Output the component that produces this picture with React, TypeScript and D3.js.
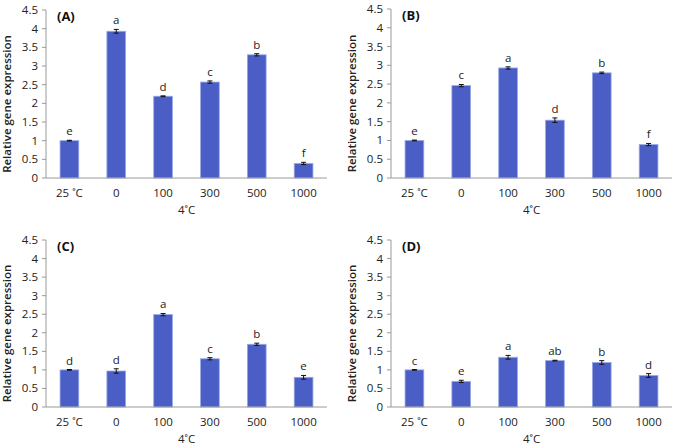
import * as d3 from 'd3'

const categories = ['25 ˚C', '0', '100', '300', '500', '1000']
const yTicks = [0, 0.5, 1, 1.5, 2, 2.5, 3, 3.5, 4, 4.5]

const valuesA = [1.0, 3.93, 2.19, 2.57, 3.30, 0.39]
const errorsA = [0.01, 0.05, 0.01, 0.03, 0.03, 0.03]
const lettersA = ['e', 'a', 'd', 'c', 'b', 'f']

const valuesB = [1.0, 2.46, 2.93, 1.54, 2.80, 0.89]
const errorsB = [0.01, 0.03, 0.03, 0.06, 0.02, 0.03]
const lettersB = ['e', 'c', 'a', 'd', 'b', 'f']

const valuesC = [1.0, 0.97, 2.49, 1.30, 1.69, 0.80]
const errorsC = [0.01, 0.06, 0.03, 0.03, 0.03, 0.05]
const lettersC = ['d', 'd', 'a', 'c', 'b', 'e']

const valuesD = [1.0, 0.69, 1.34, 1.25, 1.20, 0.85]
const errorsD = [0.01, 0.03, 0.05, 0.01, 0.05, 0.05]
const lettersD = ['c', 'e', 'a', 'ab', 'b', 'd']

const FONT = '"Open Sans", "DejaVu Sans", sans-serif'
const BAR = '#4a5ec6'
const BAR_EDGE = '#9aaae6'

interface PanelProps {
  tag: string
  values: number[]
  errors: number[]
  letters: string[]
  x0: number
  y0: number
  yTop: number
}

function Panel({ tag, values, errors, letters, x0, y0, yTop }: PanelProps) {
  const width = 281
  const x = d3.scaleBand<string>().domain(categories).range([x0, x0 + width]).paddingInner(0.6).paddingOuter(0.3)
  const y = d3.scaleLinear().domain([0, 4.5]).range([y0, yTop])
  const bw = x.bandwidth()

  return (
    <g fontFamily={FONT}>
      {/* y axis */}
      <line x1={x0} x2={x0} y1={y0} y2={yTop} stroke="#9a9a9a" />
      {yTicks.map((t) => (
        <g key={t}>
          <line x1={x0 - 4} x2={x0} y1={y(t)} y2={y(t)} stroke="#9a9a9a" />
          <text x={x0 - 8} y={y(t)} dy="0.35em" textAnchor="end" fontSize={11.5} fill="#222">
            {t}
          </text>
        </g>
      ))}
      <text
        transform={`translate(${x0 - 35},${(y0 + yTop) / 2 + 10}) rotate(-90)`}
        textAnchor="middle"
        fontSize={11.5}
        fontWeight={600}
        fill="#222"
      >
        Relative gene expression
      </text>

      {/* bars */}
      {categories.map((c, i) => {
        const cx = (x(c) ?? 0) + bw / 2
        const top = y(values[i] + errors[i])
        const bot = y(values[i] - errors[i])
        return (
          <g key={c}>
            <rect
              x={x(c)}
              y={y(values[i])}
              width={bw}
              height={y0 - y(values[i])}
              fill={BAR}
              stroke={BAR_EDGE}
              strokeWidth={0.8}
            />
            <line x1={cx} x2={cx} y1={top} y2={bot} stroke="#111" strokeWidth={1} />
            <line x1={cx - 2.5} x2={cx + 2.5} y1={top} y2={top} stroke="#111" strokeWidth={1} />
            <line x1={cx - 2.5} x2={cx + 2.5} y1={bot} y2={bot} stroke="#111" strokeWidth={1} />
            <text x={cx} y={top - 5} textAnchor="middle" fontSize={11.5} fill="#222">
              {letters[i]}
            </text>
            <text x={cx} y={y0 + 15} dy="0.35em" textAnchor="middle" fontSize={11.5} fill="#222">
              {c}
            </text>
          </g>
        )
      })}

      {/* x axis */}
      <line x1={x0} x2={x0 + width} y1={y0} y2={y0} stroke="#9a9a9a" />
      <text x={x0 + width / 2} y={y0 + 32} dy="0.35em" textAnchor="middle" fontSize={11.5} fill="#222">
        4˚C
      </text>

      <text x={x0 + 11} y={yTop + 6} dy="0.35em" fontSize={13} fontWeight={700} fill="#111">
        {tag}
      </text>
    </g>
  )
}

export default function App() {
  return (
    <svg
      width={677}
      height={448}
      style={{ position: 'absolute', left: 0, top: 0, background: '#fff' }}
    >
      <Panel tag="(A)" values={valuesA} errors={errorsA} letters={lettersA} x0={46} y0={178} yTop={10} />
      <Panel tag="(B)" values={valuesB} errors={errorsB} letters={lettersB} x0={391} y0={178} yTop={9} />
      <Panel tag="(C)" values={valuesC} errors={errorsC} letters={lettersC} x0={46} y0={407} yTop={240} />
      <Panel tag="(D)" values={valuesD} errors={errorsD} letters={lettersD} x0={391} y0={407} yTop={240} />
    </svg>
  )
}
